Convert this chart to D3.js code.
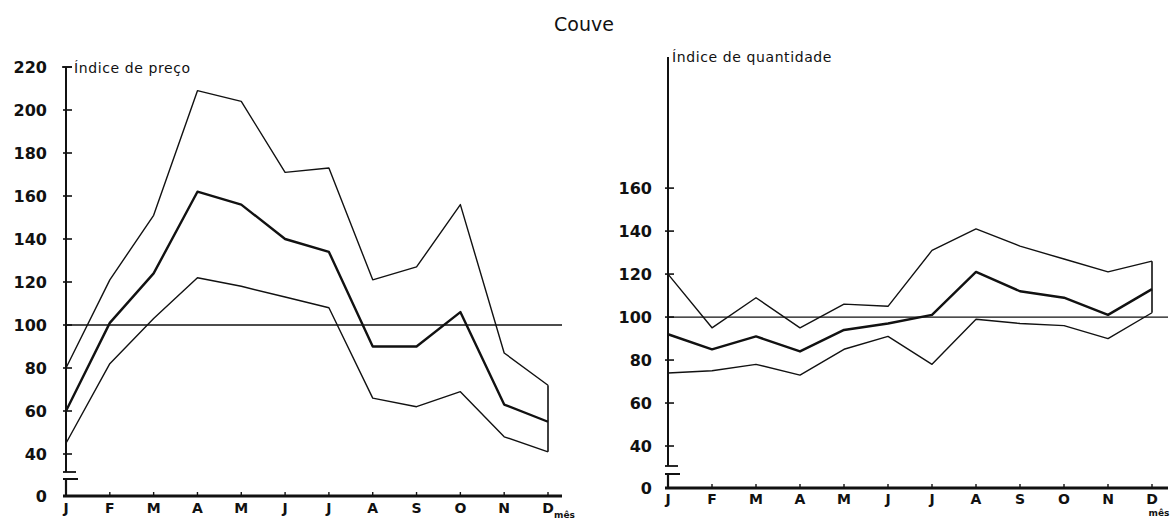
<!DOCTYPE html>
<html><head><meta charset="utf-8">
<script src="https://cdn.jsdelivr.net/npm/d3@7"></script>
<style>
html,body{margin:0;padding:0;background:#fff;}
svg text{font-family:"DejaVu Sans",sans-serif;fill:#111;}
</style></head>
<body>
<svg id="c" width="1176" height="522"></svg>
<script>
const months = ["J","F","M","A","M","J","J","A","S","O","N","D"];
const priceTicks = [0,40,60,80,100,120,140,160,180,200,220];
const qtyTicks = [0,40,60,80,100,120,140,160];

const priceUpper = [80,121,151,209,204,171,173,121,127,156,87,72];
const priceMid   = [60,101,124,162,156,140,134,90,90,106,63,55];
const priceLower = [45,82,103,122,118,113,108,66,62,69,48,41];

const qtyUpper = [120,95,109,95,106,105,131,141,133,127,121,126];
const qtyMid   = [92,85,91,84,94,97,101,121,112,109,101,113];
const qtyLower = [74,75,78,73,85,91,78,99,97,96,90,102];

const svg = d3.select("#c");
const ink = "#111";

svg.append("text").attr("x",584).attr("y",31).attr("text-anchor","middle")
  .style("font-size","19px").text("Couve");

function panel(cfg){
  const g = svg.append("g");
  const x = d3.scalePoint().domain(d3.range(12)).range([cfg.x0, cfg.x1]);
  const y = d3.scaleLinear().domain([0,30,cfg.top]).range([cfg.base, cfg.brk, cfg.topY]);
  // y axis (upper part, with break)
  g.append("line").attr("x1",cfg.x0).attr("x2",cfg.x0)
    .attr("y1",y(cfg.top)).attr("y2",cfg.brkTop)
    .attr("stroke",ink).attr("stroke-width",2);
  g.append("line").attr("x1",cfg.x0-3).attr("x2",cfg.x0+10)
    .attr("y1",cfg.brkTop).attr("y2",cfg.brkTop).attr("stroke",ink).attr("stroke-width",1.8);
  g.append("line").attr("x1",cfg.x0-3).attr("x2",cfg.x0+12)
    .attr("y1",cfg.brkBot).attr("y2",cfg.brkBot).attr("stroke",ink).attr("stroke-width",2);
  g.append("line").attr("x1",cfg.x0).attr("x2",cfg.x0)
    .attr("y1",cfg.brkBot).attr("y2",cfg.base)
    .attr("stroke",ink).attr("stroke-width",2.2);
  // y ticks
  cfg.ticks.forEach(t=>{
    if(t>0){
      g.append("line").attr("x1",cfg.x0-3).attr("x2",cfg.x0+6)
        .attr("y1",y(t)).attr("y2",y(t)).attr("stroke",ink).attr("stroke-width",1.6);
    }
    g.append("text").attr("x",cfg.labX).attr("y",y(t)).attr("dy","0.36em")
      .attr("text-anchor","end").style("font-size","16px").style("font-weight","bold")
      .text(t);
  });
  // x axis
  g.append("line").attr("x1",cfg.x0-3).attr("x2",cfg.xEnd)
    .attr("y1",cfg.base).attr("y2",cfg.base).attr("stroke",ink).attr("stroke-width",3);
  d3.range(12).forEach(i=>{
    g.append("line").attr("x1",x(i)).attr("x2",x(i)).attr("y1",cfg.base).attr("y2",cfg.base-4)
      .attr("stroke",ink).attr("stroke-width",1.4);
    g.append("text").attr("x",x(i)).attr("y",cfg.base+cfg.labDy).attr("text-anchor","middle")
      .style("font-size","14px").style("font-weight","bold").text(months[i]);
  });
  g.append("text").attr("x",x(11)+cfg.mesDx).attr("y",cfg.base+cfg.mesDy)
    .attr("text-anchor",cfg.mesAnchor)
    .style("font-size","9px").style("font-weight","bold").text("mês");
  // reference line at 100
  g.append("line").attr("x1",cfg.x0).attr("x2",cfg.xEnd)
    .attr("y1",y(100)).attr("y2",y(100)).attr("stroke",ink).attr("stroke-width",1.3);
  // axis title
  g.append("text").attr("x",cfg.titleX).attr("y",cfg.titleY)
    .style("font-size","14px").style("letter-spacing","0.6px").text(cfg.title);
  if(cfg.topTee){
    g.append("line").attr("x1",cfg.x0-4).attr("x2",cfg.x0+6)
      .attr("y1",y(cfg.top)).attr("y2",y(cfg.top)).attr("stroke",ink).attr("stroke-width",1.6);
  }
  // series
  const line = d3.line().x((d,i)=>x(i)).y(d=>y(d));
  [[cfg.upper,1.4],[cfg.lower,1.4],[cfg.mid,2.4]].forEach(([s,w])=>{
    g.append("path").datum(s).attr("d",line).attr("fill","none")
      .attr("stroke",ink).attr("stroke-width",w).attr("stroke-linejoin","round");
  });
  // vertical closing line at December
  g.append("line").attr("x1",x(11)).attr("x2",x(11))
    .attr("y1",y(cfg.upper[11])).attr("y2",y(cfg.lower[11]))
    .attr("stroke",ink).attr("stroke-width",1.6);
}

panel({x0:66,x1:548,xEnd:562,base:496,brk:475.5,top:220,topY:67,brkTop:472,brkBot:479,
  ticks:priceTicks,labX:47,title:"Índice de preço",titleX:74,titleY:73,topTee:true,
  labDy:17,mesDx:6,mesDy:22,mesAnchor:"start",
  upper:priceUpper,mid:priceMid,lower:priceLower});

panel({x0:668,x1:1152,xEnd:1168,base:488,brk:467.5,top:221,topY:57,brkTop:466,brkBot:474,
  ticks:qtyTicks,labX:652,title:"Índice de quantidade",titleX:672,titleY:62,topTee:false,
  labDy:16,mesDx:7,mesDy:28,mesAnchor:"middle",
  upper:qtyUpper,mid:qtyMid,lower:qtyLower});
</script>
</body></html>
